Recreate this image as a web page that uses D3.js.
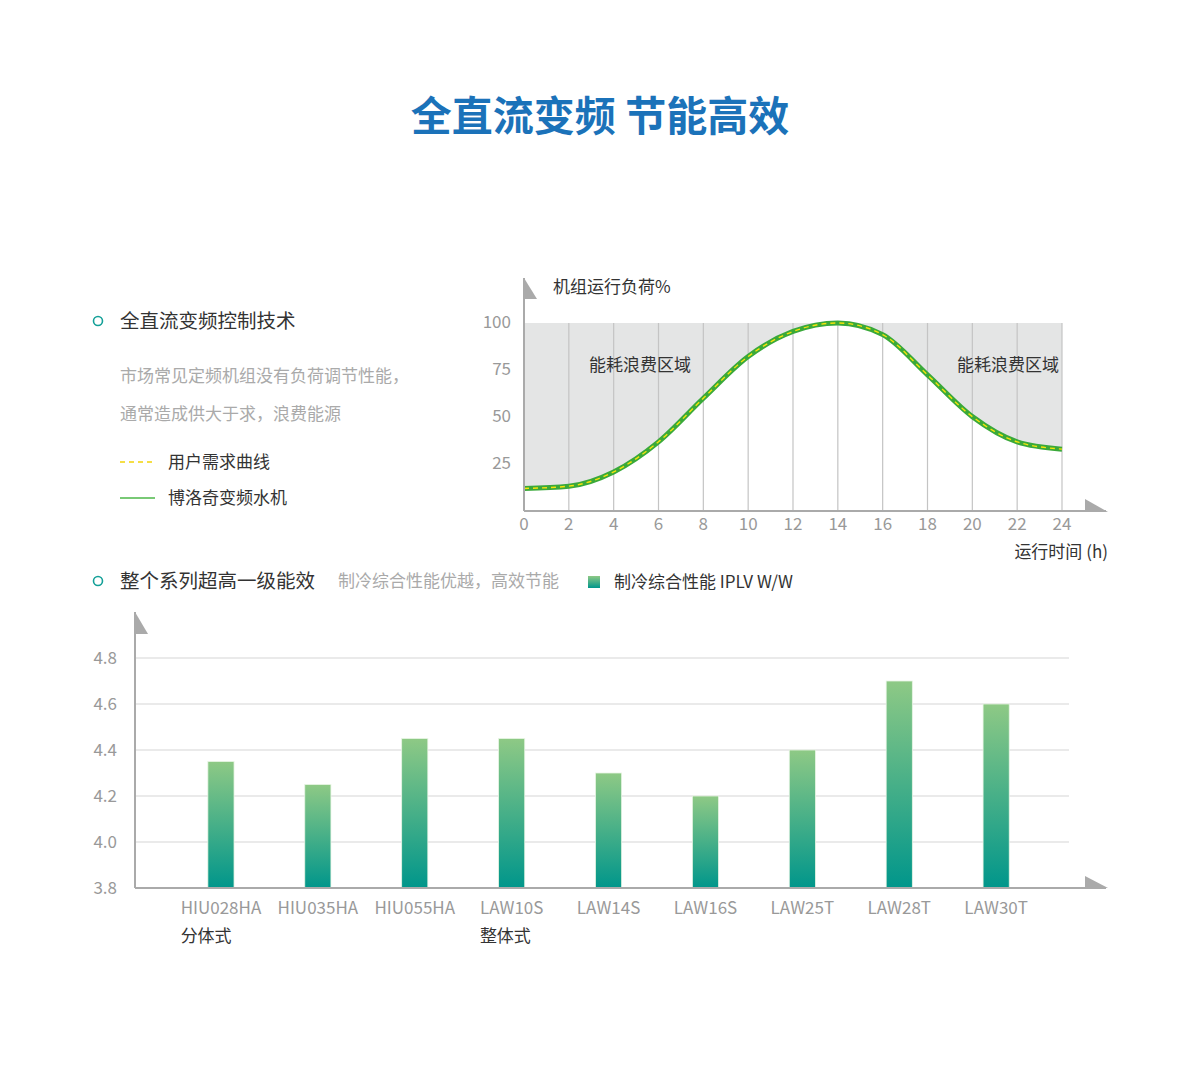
<!DOCTYPE html>
<html>
<head>
<meta charset="utf-8">
<script src="https://cdn.jsdelivr.net/npm/d3@7"></script>
<style>
  body { margin: 0; background: #fff; }
  svg { display: block; font-family: "Noto Sans CJK SC", "Noto Sans", sans-serif; }
</style>
</head>
<body>
<svg id="chart" width="1200" height="1086"></svg>
<script>
// load curve data (hours / %)
const hours = [0, 2, 4, 6, 8, 10, 12, 14, 16, 18, 20, 22, 24]
const loadValues = [12, 13.2, 20.8, 36.8, 60, 82.2, 95.5, 100, 93.8, 72.4, 50.2, 36.8, 32.9]
const loadTicks = [25, 50, 75, 100]

// bar data
const models = ['HIU028HA', 'HIU035HA', 'HIU055HA', 'LAW10S', 'LAW14S', 'LAW16S', 'LAW25T', 'LAW28T', 'LAW30T']
const iplv = [4.35, 4.25, 4.45, 4.45, 4.30, 4.20, 4.40, 4.70, 4.60]
const iplvTicks = [3.8, 4.0, 4.2, 4.4, 4.6, 4.8]
const groupLabels = [{ label: '分体式', model: 'HIU028HA' }, { label: '整体式', model: 'LAW10S' }]

const svg = d3.select('#chart')
const axisColor = '#aaa'
const fs = '17px'
const fsHead = '19.5px'

// gradient for bars
const defs = svg.append('defs')
const grad = defs.append('linearGradient')
  .attr('id', 'barGrad')
  .attr('x1', 0).attr('y1', 0).attr('x2', 0).attr('y2', 1)
grad.append('stop').attr('offset', '0%').attr('stop-color', '#8ec985')
grad.append('stop').attr('offset', '100%').attr('stop-color', '#00968b')

// title
svg.append('text')
  .attr('x', 600).attr('y', 131)
  .attr('text-anchor', 'middle')
  .attr('fill', '#1b72b9')
  .style('font-size', '41px')
  .style('font-weight', 'bold')
  .text('全直流变频 节能高效')

// ---- left text panel ----
function bullet(y) {
  svg.append('circle')
    .attr('cx', 98).attr('cy', y).attr('r', 4.5)
    .attr('fill', 'none')
    .attr('stroke', '#14a098')
    .attr('stroke-width', 1.6)
}
bullet(321)
svg.append('text').attr('x', 120).attr('y', 328)
  .attr('fill', '#333').style('font-size', fsHead)
  .text('全直流变频控制技术')
svg.append('text').attr('x', 120).attr('y', 382)
  .attr('fill', '#aaa').style('font-size', fs)
  .text('市场常见定频机组没有负荷调节性能，')
svg.append('text').attr('x', 120).attr('y', 420)
  .attr('fill', '#aaa').style('font-size', fs)
  .text('通常造成供大于求，浪费能源')

svg.append('line').attr('x1', 120).attr('x2', 155).attr('y1', 462).attr('y2', 462)
  .attr('stroke', '#f2d40a').attr('stroke-width', 1.5).attr('stroke-dasharray', '5 4')
svg.append('text').attr('x', 168).attr('y', 468)
  .attr('fill', '#333').style('font-size', fs).text('用户需求曲线')
svg.append('line').attr('x1', 120).attr('x2', 155).attr('y1', 498).attr('y2', 498)
  .attr('stroke', '#4cb748').attr('stroke-width', 1.5)
svg.append('text').attr('x', 168).attr('y', 504)
  .attr('fill', '#333').style('font-size', fs).text('博洛奇变频水机')

// ---- load curve chart ----
const x = d3.scaleLinear().domain([0, 24]).range([524, 1062])
const y = d3.scaleLinear().domain([0, 100]).range([511, 323])

const loadG = svg.append('g')

loadG.append('rect')
  .attr('x', x(0)).attr('y', y(100))
  .attr('width', x(24) - x(0)).attr('height', y(0) - y(100))
  .attr('fill', '#e4e5e5')

const pts = hours.map((h, i) => [h, loadValues[i]])
const curve = d3.curveMonotoneX

loadG.append('path')
  .datum(pts)
  .attr('d', d3.area().x(d => x(d[0])).y0(y(0)).y1(d => y(d[1])).curve(curve))
  .attr('fill', '#fff')

loadG.selectAll('.vgrid')
  .data(hours.slice(1))
  .join('line')
  .attr('class', 'vgrid')
  .attr('x1', d => x(d)).attr('x2', d => x(d))
  .attr('y1', y(100)).attr('y2', y(0))
  .attr('stroke', '#c4c4c4').attr('stroke-width', 1.2)

const line = d3.line().x(d => x(d[0])).y(d => y(d[1])).curve(curve)
loadG.append('path').datum(pts).attr('d', line)
  .attr('fill', 'none').attr('stroke', '#3aa93a').attr('stroke-width', 5)
loadG.append('path').datum(pts).attr('d', line)
  .attr('fill', 'none').attr('stroke', '#f3e40a').attr('stroke-width', 1.4)
  .attr('stroke-dasharray', '5 4')

// axes
loadG.append('line').attr('x1', x(0)).attr('x2', 1106).attr('y1', y(0)).attr('y2', y(0))
  .attr('stroke', axisColor).attr('stroke-width', 2)
loadG.append('line').attr('x1', x(0)).attr('x2', x(0)).attr('y1', 278).attr('y2', y(0))
  .attr('stroke', axisColor).attr('stroke-width', 2)
loadG.append('path').attr('d', `M${x(0)},278 L${x(0) + 13},299 L${x(0)},299 Z`).attr('fill', axisColor)
loadG.append('path').attr('d', `M1085,499 L1108,512 L1085,512 Z`).attr('fill', axisColor)

loadG.selectAll('.xlab')
  .data(hours)
  .join('text')
  .attr('x', d => x(d)).attr('y', 530)
  .attr('text-anchor', 'middle')
  .attr('fill', '#999').style('font-size', fs)
  .text(d => d)

loadG.selectAll('.ylab')
  .data(loadTicks)
  .join('text')
  .attr('x', 511).attr('y', d => y(d) + 5)
  .attr('text-anchor', 'end')
  .attr('fill', '#999').style('font-size', fs)
  .text(d => d)

loadG.append('text').attr('x', 553).attr('y', 293)
  .attr('fill', '#333').style('font-size', fs).text('机组运行负荷%')
loadG.append('text').attr('x', 1108).attr('y', 558)
  .attr('text-anchor', 'end')
  .attr('fill', '#333').style('font-size', fs).text('运行时间 (h)')

loadG.append('text').attr('x', 640).attr('y', 371)
  .attr('text-anchor', 'middle')
  .attr('fill', '#333').style('font-size', fs).text('能耗浪费区域')
loadG.append('text').attr('x', 1008).attr('y', 371)
  .attr('text-anchor', 'middle')
  .attr('fill', '#333').style('font-size', fs).text('能耗浪费区域')

// ---- bar chart ----
bullet(581)
svg.append('text').attr('x', 120).attr('y', 588)
  .attr('fill', '#333').style('font-size', fsHead).text('整个系列超高一级能效')
svg.append('text').attr('x', 338).attr('y', 587)
  .attr('fill', '#aaa').style('font-size', fs).text('制冷综合性能优越，高效节能')
svg.append('rect').attr('x', 588).attr('y', 576).attr('width', 12).attr('height', 12)
  .attr('fill', 'url(#barGrad)')
svg.append('text').attr('x', 614).attr('y', 588)
  .attr('fill', '#333').style('font-size', fs).text('制冷综合性能 IPLV W/W')

const xb = d3.scaleBand().domain(models).range([172.5, 1044.6])
  .paddingInner(0.73).paddingOuter(0.365)
const yb = d3.scaleLinear().domain([3.8, 4.8]).range([888, 658])

const barG = svg.append('g')

barG.selectAll('.hgrid')
  .data(iplvTicks.slice(1))
  .join('line')
  .attr('class', 'hgrid')
  .attr('x1', 136).attr('x2', 1069)
  .attr('y1', d => yb(d)).attr('y2', d => yb(d))
  .attr('stroke', '#e3e3e3').attr('stroke-width', 1.5)

barG.selectAll('.bar')
  .data(models)
  .join('rect')
  .attr('class', 'bar')
  .attr('x', d => xb(d))
  .attr('width', xb.bandwidth())
  .attr('y', (d, i) => yb(iplv[i]))
  .attr('height', (d, i) => yb(3.8) - yb(iplv[i]))
  .attr('fill', 'url(#barGrad)')
  .attr('stroke', '#e8f5e4').attr('stroke-width', 0.8)

barG.append('line').attr('x1', 135).attr('x2', 1106).attr('y1', 888).attr('y2', 888)
  .attr('stroke', axisColor).attr('stroke-width', 2)
barG.append('line').attr('x1', 135).attr('x2', 135).attr('y1', 612).attr('y2', 888)
  .attr('stroke', axisColor).attr('stroke-width', 2)
barG.append('path').attr('d', 'M135,612 L148,634 L135,634 Z').attr('fill', axisColor)
barG.append('path').attr('d', 'M1085,876 L1108,888 L1085,888 Z').attr('fill', axisColor)

barG.selectAll('.ylab')
  .data(iplvTicks)
  .join('text')
  .attr('x', 117).attr('y', d => yb(d) + 6)
  .attr('text-anchor', 'end')
  .attr('fill', '#999').style('font-size', fs)
  .text(d => d.toFixed(1))

const xlabs = barG.selectAll('.xlab')
  .data(models)
  .join('text')
  .attr('class', 'xlab')
  .attr('x', d => xb(d) + xb.bandwidth() / 2).attr('y', 914)
  .attr('text-anchor', 'middle')
  .attr('fill', '#999').style('font-size', fs)
  .text(d => d)

// group labels start at the left edge of their model label
const labLen = {}
xlabs.each(function (d) { labLen[d] = this.getComputedTextLength() })

barG.selectAll('.group')
  .data(groupLabels)
  .join('text')
  .attr('x', d => xb(d.model) + xb.bandwidth() / 2 - labLen[d.model] / 2)
  .attr('y', 942)
  .attr('fill', '#333').style('font-size', fs)
  .text(d => d.label)
</script>
</body>
</html>
